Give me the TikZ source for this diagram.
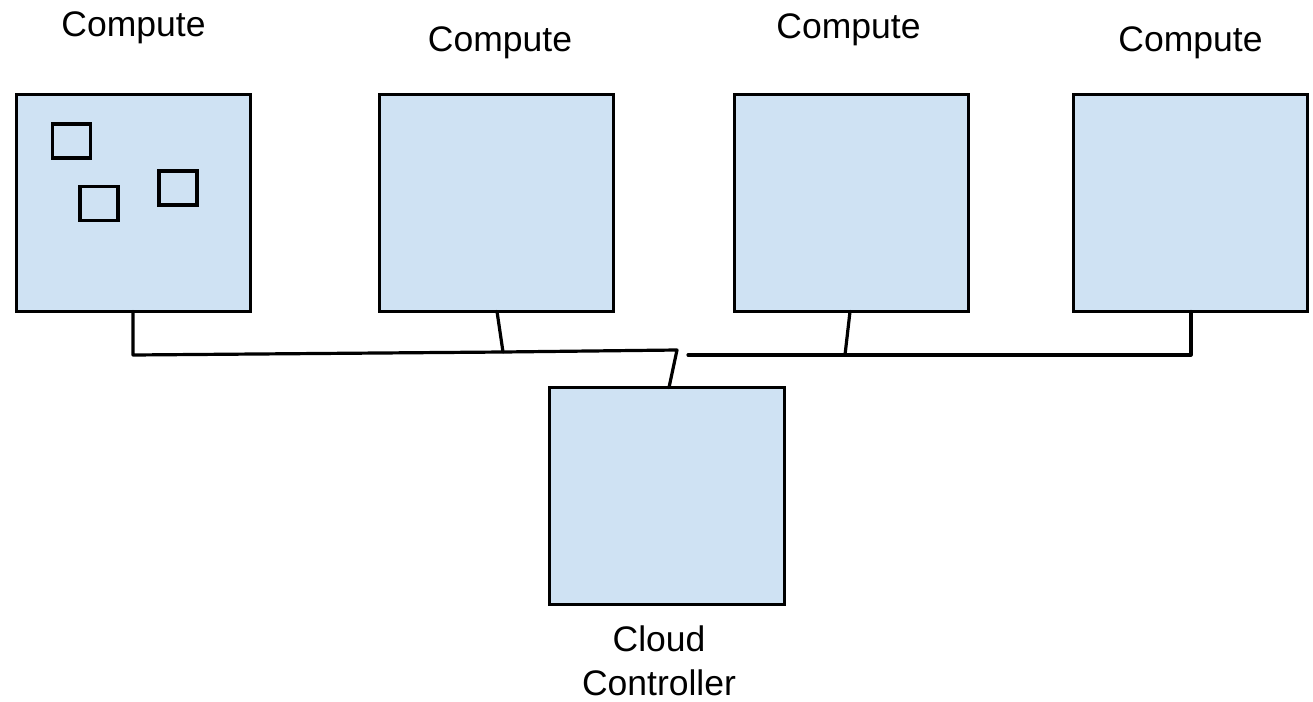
\documentclass[tikz,border=0pt]{standalone}
\usepackage{fontspec}
\setmainfont{Liberation Sans}
\definecolor{boxfill}{HTML}{CFE2F3}
\begin{document}
\begin{tikzpicture}[x=1pt,y=-1pt,
  box/.style={draw=black, fill=boxfill, line width=3.2pt, minimum width=234pt, minimum height=217pt, inner sep=0pt, outer sep=0pt},
  vm/.style={draw=black, fill=boxfill, line width=3.2pt, minimum width=38pt, minimum height=34pt, inner sep=0pt, outer sep=0pt},
  lbl/.style={font=\fontsize{35.5}{45}\selectfont, inner sep=0pt, anchor=base},
  wire/.style={line width=3.2pt, line join=round, line cap=round}]
\useasboundingbox (0,0) rectangle (1313,701);
% compute boxes
\node[box] (c1) at (133.5,203) {};
\node[box] (c2) at (496.5,203) {};
\node[box] (c3) at (851.5,203) {};
\node[box] (c4) at (1190.5,203) {};
\node[box, minimum width=235pt] (cc) at (667,496) {};
% small boxes inside first compute
\node[vm] (v1) at (71.5,141) {};
\node[vm] (v2) at (99,203.5) {};
\node[vm] (v3) at (178,188) {};
% labels
\node[lbl] (l1) at (133.5,37) {Compute};
\node[lbl] (l2) at (500,52) {Compute};
\node[lbl] (l3) at (848.5,38) {Compute};
\node[lbl] (l4) at (1190.5,52) {Compute};
\node[lbl] (l5) at (659,651) {Cloud};
\node[lbl] (l6) at (659,695) {Controller};
% wiring
\coordinate (j1) at (133,355);
\coordinate (j2) at (503,352);
\coordinate (j3) at (677,350);
\coordinate (k1) at (688,355);
\coordinate (k2) at (845,355);
\coordinate (k3) at (1191,355);
\draw[wire] (c1.south -| j1) -- (j1) -- (j2) -- (j3) -- (cc.north -| 669,0);
\draw[wire] (c2.south -| 497,0) -- (j2);
\draw[wire] (k1) -- (k2) -- (k3) -- (c4.south -| k3);
\draw[wire] (c3.south -| 850,0) -- (k2);
\end{tikzpicture}
\end{document}
